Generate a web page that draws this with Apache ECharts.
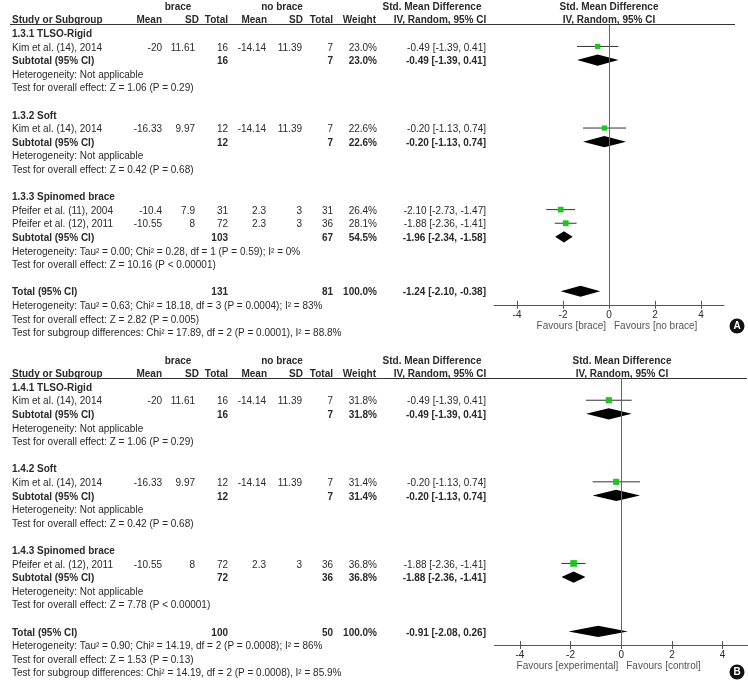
<!DOCTYPE html>
<html>
<head>
<meta charset="utf-8">
<script src="https://cdn.jsdelivr.net/npm/echarts@6/dist/echarts.min.js"></script>
<style>html,body{margin:0;padding:0;background:#fff}#c{width:748px;height:682px}</style>
</head>
<body>
<div id="c"></div>
<script>
// ---------- Panel A data ----------
const A_headers = ['brace', 'no brace'];
const A_groups = ['1.3.1 TLSO-Rigid', '1.3.2 Soft', '1.3.3 Spinomed brace'];
const A_studies = ['Kim et al. (14), 2014', 'Kim et al. (14), 2014', 'Pfeifer et al. (11), 2004', 'Pfeifer et al. (12), 2011'];
const A_studyGroup = [0, 1, 2, 2];
const A_braceMean = [-20, -16.33, -10.4, -10.55];
const A_braceSD = [11.61, 9.97, 7.9, 8];
const A_braceN = [16, 12, 31, 72];
const A_noMean = [-14.14, -14.14, 2.3, 2.3];
const A_noSD = [11.39, 11.39, 3, 3];
const A_noN = [7, 7, 31, 36];
const A_weight = [23.0, 22.6, 26.4, 28.1];
const A_smd = [-0.49, -0.20, -2.10, -1.88];
const A_lo = [-1.39, -1.13, -2.73, -2.36];
const A_hi = [0.41, 0.74, -1.47, -1.41];
const A_subBraceN = [16, 12, 103];
const A_subNoN = [7, 7, 67];
const A_subWeight = [23.0, 22.6, 54.5];
const A_subSmd = [-0.49, -0.20, -1.96];
const A_subLo = [-1.39, -1.13, -2.34];
const A_subHi = [0.41, 0.74, -1.58];
const A_subHet = ['Heterogeneity: Not applicable', 'Heterogeneity: Not applicable',
  'Heterogeneity: Tau\u00b2 = 0.00; Chi\u00b2 = 0.28, df = 1 (P = 0.59); I\u00b2 = 0%'];
const A_subTest = ['Test for overall effect: Z = 1.06 (P = 0.29)', 'Test for overall effect: Z = 0.42 (P = 0.68)',
  'Test for overall effect: Z = 10.16 (P < 0.00001)'];
const A_totalN = [131, 81];
const A_totalWeight = 100.0;
const A_totalCI = [-1.24, -2.10, -0.38];
const A_totalNotes = ['Heterogeneity: Tau\u00b2 = 0.63; Chi\u00b2 = 18.18, df = 3 (P = 0.0004); I\u00b2 = 83%',
  'Test for overall effect: Z = 2.82 (P = 0.005)',
  'Test for subgroup differences: Chi\u00b2 = 17.89, df = 2 (P = 0.0001), I\u00b2 = 88.8%'];
const A_favours = ['Favours [brace]', 'Favours [no brace]'];

// ---------- Panel B data ----------
const B_headers = ['brace', 'no brace'];
const B_groups = ['1.4.1 TLSO-Rigid', '1.4.2 Soft', '1.4.3 Spinomed brace'];
const B_studies = ['Kim et al. (14), 2014', 'Kim et al. (14), 2014', 'Pfeifer et al. (12), 2011'];
const B_studyGroup = [0, 1, 2];
const B_braceMean = [-20, -16.33, -10.55];
const B_braceSD = [11.61, 9.97, 8];
const B_braceN = [16, 12, 72];
const B_noMean = [-14.14, -14.14, 2.3];
const B_noSD = [11.39, 11.39, 3];
const B_noN = [7, 7, 36];
const B_weight = [31.8, 31.4, 36.8];
const B_smd = [-0.49, -0.20, -1.88];
const B_lo = [-1.39, -1.13, -2.36];
const B_hi = [0.41, 0.74, -1.41];
const B_subBraceN = [16, 12, 72];
const B_subNoN = [7, 7, 36];
const B_subWeight = [31.8, 31.4, 36.8];
const B_subSmd = [-0.49, -0.20, -1.88];
const B_subLo = [-1.39, -1.13, -2.36];
const B_subHi = [0.41, 0.74, -1.41];
const B_subHet = ['Heterogeneity: Not applicable', 'Heterogeneity: Not applicable', 'Heterogeneity: Not applicable'];
const B_subTest = ['Test for overall effect: Z = 1.06 (P = 0.29)', 'Test for overall effect: Z = 0.42 (P = 0.68)',
  'Test for overall effect: Z = 7.78 (P < 0.00001)'];
const B_totalN = [100, 50];
const B_totalWeight = 100.0;
const B_totalCI = [-0.91, -2.08, 0.26];
const B_totalNotes = ['Heterogeneity: Tau\u00b2 = 0.90; Chi\u00b2 = 14.19, df = 2 (P = 0.0008); I\u00b2 = 86%',
  'Test for overall effect: Z = 1.53 (P = 0.13)',
  'Test for subgroup differences: Chi\u00b2 = 14.19, df = 2 (P = 0.0008), I\u00b2 = 85.9%'];
const B_favours = ['Favours [experimental]', 'Favours [control]'];

// ---------- shared ----------
const X_TICKS = [-4, -2, 0, 2, 4];
const COLUMN_HEADERS = ['Study or Subgroup', 'Mean', 'SD', 'Total', 'Mean', 'SD', 'Total', 'Weight'];
const SMD_HEADER = ['Std. Mean Difference', 'IV, Random, 95% CI'];

// ---------- layout / style ----------
const ROW_H = 13.6;
const FONT = "'Liberation Sans', Arial, sans-serif";
const TEXT = '#2a2a2a';
const GREEN = '#1fc41f';
const COL = { name: 12, braceMean: 162, braceSD: 195, braceN: 228, noMean: 266, noSD: 302, noN: 333, weight: 377, ci: 486 };
const HDR_X = [12, 162, 199, 228, 267, 303, 333, 376];
const HDR_A = ['left', 'right', 'right', 'right', 'right', 'right', 'right', 'right'];

function fmt2(v) { return v.toFixed(2); }
function ciText(e, l, h) { return fmt2(e) + ' [' + fmt2(l) + ', ' + fmt2(h) + ']'; }
function pct(w) { return w.toFixed(1) + '%'; }

function buildPanel(P) {
  const items = [], studies = [], diamonds = [];
  const T = (x, r, t, a, b) => items.push({ x: x, r: r, t: String(t), a: a, b: b });
  T(178, -2, P.headers[0], 'center', true);
  T(282, -2, P.headers[1], 'center', true);
  COLUMN_HEADERS.forEach((h, i) => T(HDR_X[i], -1, h, HDR_A[i], true));
  T(432, -2, SMD_HEADER[0], 'center', true);
  T(440, -1, SMD_HEADER[1], 'center', true);
  T(P.plotCenter, -2, SMD_HEADER[0], 'center', true);
  T(P.plotCenter, -1, SMD_HEADER[1], 'center', true);
  let r = 0;
  P.groups.forEach((g, gi) => {
    T(COL.name, r, g, 'left', true); r++;
    P.studyGroup.forEach((sg, i) => {
      if (sg !== gi) return;
      T(COL.name, r, P.studies[i], 'left', false);
      T(COL.braceMean, r, P.braceMean[i], 'right', false);
      T(COL.braceSD, r, P.braceSD[i], 'right', false);
      T(COL.braceN, r, P.braceN[i], 'right', false);
      T(COL.noMean, r, P.noMean[i], 'right', false);
      T(COL.noSD, r, P.noSD[i], 'right', false);
      T(COL.noN, r, P.noN[i], 'right', false);
      T(COL.weight, r, pct(P.weight[i]), 'right', false);
      T(COL.ci, r, ciText(P.smd[i], P.lo[i], P.hi[i]), 'right', false);
      studies.push([P.smd[i], P.lo[i], P.hi[i], r, P.weight[i]]);
      r++;
    });
    T(COL.name, r, 'Subtotal (95% CI)', 'left', true);
    T(COL.braceN, r, P.subBraceN[gi], 'right', true);
    T(COL.noN, r, P.subNoN[gi], 'right', true);
    T(COL.weight, r, pct(P.subWeight[gi]), 'right', true);
    T(COL.ci, r, ciText(P.subSmd[gi], P.subLo[gi], P.subHi[gi]), 'right', true);
    diamonds.push([P.subSmd[gi], P.subLo[gi], P.subHi[gi], r]);
    r++;
    T(COL.name, r, P.subHet[gi], 'left', false); r++;
    T(COL.name, r, P.subTest[gi], 'left', false); r++;
    r++;
  });
  T(COL.name, r, 'Total (95% CI)', 'left', true);
  T(COL.braceN, r, P.totalN[0], 'right', true);
  T(COL.noN, r, P.totalN[1], 'right', true);
  T(COL.weight, r, pct(P.totalWeight), 'right', true);
  T(COL.ci, r, ciText(P.totalCI[0], P.totalCI[1], P.totalCI[2]), 'right', true);
  diamonds.push([P.totalCI[0], P.totalCI[1], P.totalCI[2], r]);
  r++;
  P.totalNotes.forEach(n => { T(COL.name, r, n, 'left', false); r++; });
  return { items, studies, diamonds };
}

const panelA = buildPanel({
  headers: A_headers, groups: A_groups, studies: A_studies, studyGroup: A_studyGroup,
  braceMean: A_braceMean, braceSD: A_braceSD, braceN: A_braceN, noMean: A_noMean, noSD: A_noSD, noN: A_noN,
  weight: A_weight, smd: A_smd, lo: A_lo, hi: A_hi,
  subBraceN: A_subBraceN, subNoN: A_subNoN, subWeight: A_subWeight, subSmd: A_subSmd, subLo: A_subLo, subHi: A_subHi,
  subHet: A_subHet, subTest: A_subTest, totalN: A_totalN, totalWeight: A_totalWeight, totalCI: A_totalCI,
  totalNotes: A_totalNotes, plotCenter: 609
});
const panelB = buildPanel({
  headers: B_headers, groups: B_groups, studies: B_studies, studyGroup: B_studyGroup,
  braceMean: B_braceMean, braceSD: B_braceSD, braceN: B_braceN, noMean: B_noMean, noSD: B_noSD, noN: B_noN,
  weight: B_weight, smd: B_smd, lo: B_lo, hi: B_hi,
  subBraceN: B_subBraceN, subNoN: B_subNoN, subWeight: B_subWeight, subSmd: B_subSmd, subLo: B_subLo, subHi: B_subHi,
  subHet: B_subHet, subTest: B_subTest, totalN: B_totalN, totalWeight: B_totalWeight, totalCI: B_totalCI,
  totalNotes: B_totalNotes, plotCenter: 622
});

// panel geometry
const PANELS = [
  { data: panelA, favours: A_favours, row0: 34.2, tblMin: -2.5, tblMax: 22.5, tblLeft: 10, tblRight: 735,
    plotMin: -0.7, plotMax: 19.9, plotLeft: 494, plotWidth: 230, favRow: 21.5, underline: -0.7 },
  { data: panelB, favours: B_favours, row0: 388, tblMin: -2.5, tblMax: 21.5, tblLeft: 10, tblRight: 747,
    plotMin: -0.74, plotMax: 18.9, plotLeft: 494.5, plotWidth: 256, favRow: 20.45, underline: -0.74 }
];

const grid = [], xAxis = [], yAxis = [], series = [];
const MARK_SHIFT = -0.1;

PANELS.forEach((p, pi) => {
  const gT = grid.length;
  grid.push({ left: p.tblLeft, width: p.tblRight - p.tblLeft, top: p.row0 + p.tblMin * ROW_H, height: (p.tblMax - p.tblMin) * ROW_H });
  const gP = grid.length;
  grid.push({ left: p.plotLeft, width: p.plotWidth, top: p.row0 + p.plotMin * ROW_H, height: (p.plotMax - p.plotMin) * ROW_H });

  const xT = xAxis.length;
  xAxis.push({ gridIndex: gT, type: 'value', min: p.tblLeft, max: p.tblRight, show: false });
  const xP = xAxis.length;
  xAxis.push({ gridIndex: gP, type: 'value', min: -5, max: 5, position: 'bottom',
    axisLine: { show: true, onZero: false, lineStyle: { color: '#555', width: 1 } },
    axisTick: { show: true, length: 4, customValues: X_TICKS, lineStyle: { color: '#555' } },
    axisLabel: { show: true, customValues: X_TICKS, fontSize: 10, fontFamily: FONT, color: TEXT, margin: 5 },
    splitLine: { show: false } });
  xAxis.push({ gridIndex: gP, type: 'value', min: -5, max: 5, position: 'bottom',
    axisLine: { show: false, onZero: false },
    axisTick: { show: true, inside: true, length: 4, customValues: X_TICKS, lineStyle: { color: '#555' } },
    axisLabel: { show: false }, splitLine: { show: false } });

  const yT = yAxis.length;
  yAxis.push({ gridIndex: gT, type: 'value', inverse: true, min: p.tblMin, max: p.tblMax, show: false });
  const yP = yAxis.length;
  yAxis.push({ gridIndex: gP, type: 'value', inverse: true, min: p.plotMin, max: p.plotMax, show: false });

  const items = p.data.items;
  series.push({
    type: 'custom', xAxisIndex: xT, yAxisIndex: yT, clip: false, silent: true,
    data: items.map((it, i) => [it.x, it.r, i]),
    renderItem: function (params, api) {
      const it = items[api.value(2)];
      const pt = api.coord([api.value(0), api.value(1)]);
      return { type: 'text', x: pt[0], y: pt[1],
        style: { text: it.t, fill: TEXT, font: (it.b ? 'bold ' : '') + '10px ' + FONT,
          textAlign: it.a, textVerticalAlign: 'middle', align: it.a, verticalAlign: 'middle' } };
    },
    markLine: { silent: true, symbol: ['none', 'none'], label: { show: false },
      lineStyle: { color: '#333', width: 1, type: 'solid' }, data: [{ yAxis: p.underline }] }
  });

  series.push({
    type: 'custom', xAxisIndex: xP, yAxisIndex: yP, clip: false, silent: true,
    data: p.data.studies,
    renderItem: function (params, api) {
      const r = api.value(3) + MARK_SHIFT;
      const c = api.coord([api.value(0), r]);
      const l = api.coord([api.value(1), r]);
      const h = api.coord([api.value(2), r]);
      const s = 1.1 * Math.sqrt(api.value(4));
      return { type: 'group', children: [
        { type: 'line', shape: { x1: l[0], y1: c[1], x2: h[0], y2: c[1] }, style: { stroke: '#333', lineWidth: 1 } },
        { type: 'rect', shape: { x: c[0] - s / 2, y: c[1] - s / 2, width: s, height: s }, style: { fill: GREEN } }
      ] };
    },
    markLine: { silent: true, symbol: ['none', 'none'], label: { show: false },
      lineStyle: { color: '#666', width: 1, type: 'solid' }, data: [{ xAxis: 0 }] }
  });

  series.push({
    type: 'custom', xAxisIndex: xP, yAxisIndex: yP, clip: false, silent: true,
    data: p.data.diamonds,
    renderItem: function (params, api) {
      const r = api.value(3) + MARK_SHIFT;
      const c = api.coord([api.value(0), r]);
      const l = api.coord([api.value(1), r]);
      const h = api.coord([api.value(2), r]);
      const hh = 5.6;
      return { type: 'polygon', shape: { points: [[l[0], c[1]], [c[0], c[1] - hh], [h[0], c[1]], [c[0], c[1] + hh]] },
        style: { fill: '#000' } };
    }
  });

  const fav = p.favours;
  series.push({
    type: 'custom', xAxisIndex: xP, yAxisIndex: yP, clip: false, silent: true,
    data: [[0, p.favRow, 0], [0, p.favRow, 1]],
    renderItem: function (params, api) {
      const idx = api.value(2);
      const pt = api.coord([api.value(0), api.value(1)]);
      const left = idx === 0;
      return { type: 'text', x: pt[0] + (left ? -3 : 5), y: pt[1],
        style: { text: fav[idx], fill: '#555', font: '10px ' + FONT,
          textAlign: left ? 'right' : 'left', textVerticalAlign: 'middle',
          align: left ? 'right' : 'left', verticalAlign: 'middle' } };
    }
  });
});

const chart = echarts.init(document.getElementById('c'), null, { renderer: 'canvas' });
chart.setOption({
  animation: false,
  backgroundColor: '#ffffff',
  grid: grid, xAxis: xAxis, yAxis: yAxis, series: series,
  graphic: [
    { type: 'circle', shape: { cx: 737, cy: 326, r: 7.5 }, style: { fill: '#111' } },
    { type: 'text', x: 737, y: 326, style: { text: 'A', fill: '#fff', font: 'bold 10px ' + FONT, align: 'center', verticalAlign: 'middle' } },
    { type: 'circle', shape: { cx: 737, cy: 672, r: 7.5 }, style: { fill: '#111' } },
    { type: 'text', x: 737, y: 672, style: { text: 'B', fill: '#fff', font: 'bold 10px ' + FONT, align: 'center', verticalAlign: 'middle' } }
  ]
});
</script>
</body>
</html>
